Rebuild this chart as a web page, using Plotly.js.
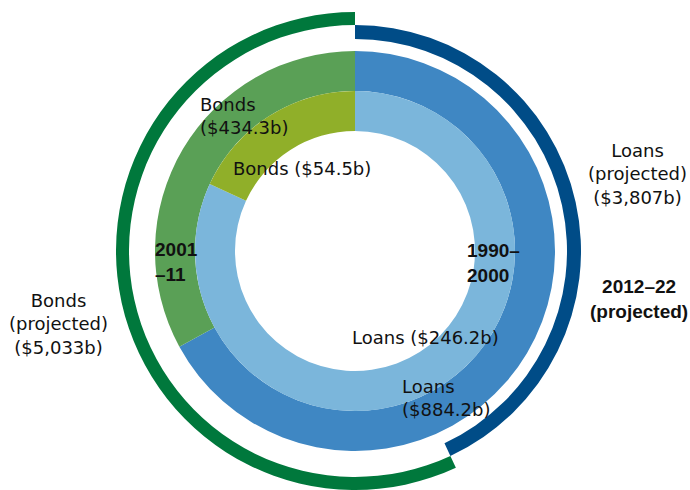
<!DOCTYPE html>
<html><head><meta charset="utf-8">
<script src="https://cdn.plot.ly/plotly-3.0.1.min.js"></script>
<style>html,body{margin:0;padding:0;background:#fff}#chart{width:690px;height:490px}</style>
</head><body><div id="chart"></div>
<script>
// Data
const categories = ['Loans', 'Bonds'];
const period1990 = [246.2, 54.5];     // 1990–2000
const period2001 = [884.2, 434.3];    // 2001–11
const period2012 = [3807, 5033];      // 2012–22 (projected)
const periodLabels = ['1990–<br>2000', '2001<br>–11', '2012–22<br>(projected)'];

// Layout geometry
const W = 690, H = 490, CX = 355, CY = 251;
function dom(r) {
  return { x: [(CX - r) / W, (CX + r) / W], y: [Math.max(0, (H - CY - r) / H), Math.min(1, (H - CY + r) / H)] };
}
const T = 'rgba(0,0,0,0)';
function ring(values, colors, rOut, rIn) {
  return {
    type: 'pie', values: values, labels: categories, sort: false, direction: 'clockwise', rotation: 0,
    domain: dom(rOut), hole: rIn / rOut, textinfo: 'none', hoverinfo: 'skip', showlegend: false,
    marker: { colors: colors, line: { width: 0 } }
  };
}
const traces = [
  ring(period2012, [T, '#00783C'], 239, 226),
  ring(period2012, ['#004C87', T], 226, 212),
  ring(period2001, ['#3F87C3', '#5AA056'], 200, 160),
  ring(period1990, ['#7BB6DB', '#90AF29'], 160, 120)
];

const fmt = v => v.toLocaleString('en-US');
const F = { family: 'DejaVu Sans, sans-serif', size: 18, color: '#111' };
const FB = { family: 'Liberation Sans, Arial, sans-serif', size: 19, color: '#111', weight: 'bold' };
function ann(text, px, py, xanchor, font, align) {
  return { text: text, x: px / W, y: 1 - py / H, xref: 'paper', yref: 'paper', xanchor: xanchor, yanchor: 'middle',
    align: align || xanchor, showarrow: false, font: font };
}
const annotations = [
  ann(categories[1] + '<br>($' + fmt(period2001[1]) + 'b)', 198, 116, 'left', F),
  ann(categories[1] + ' ($' + fmt(period1990[1]) + 'b)', 231, 168, 'left', F),
  ann('<b>' + periodLabels[1] + '</b>', 153, 262, 'left', FB),
  ann('<b>' + periodLabels[0] + '</b>', 465, 263, 'left', FB),
  ann(categories[0] + ' ($' + fmt(period1990[0]) + 'b)', 350, 337, 'left', F),
  ann(categories[0] + '<br>($' + fmt(period2001[0]) + 'b)', 400, 398, 'left', F),
  ann(categories[0] + '<br>(projected)<br>($' + fmt(period2012[0]) + 'b)', 637, 174, 'center', F),
  ann('<b>' + periodLabels[2] + '</b>', 639, 299, 'center', FB),
  ann(categories[1] + '<br>(projected)<br>($' + fmt(period2012[1]) + 'b)', 58, 324, 'center', F)
];

Plotly.newPlot('chart', traces, {
  width: W, height: H, margin: { l: 0, r: 0, t: 0, b: 0 },
  paper_bgcolor: '#fff', plot_bgcolor: '#fff', showlegend: false, annotations: annotations
}, { displayModeBar: false, staticPlot: true });
</script></body></html>
